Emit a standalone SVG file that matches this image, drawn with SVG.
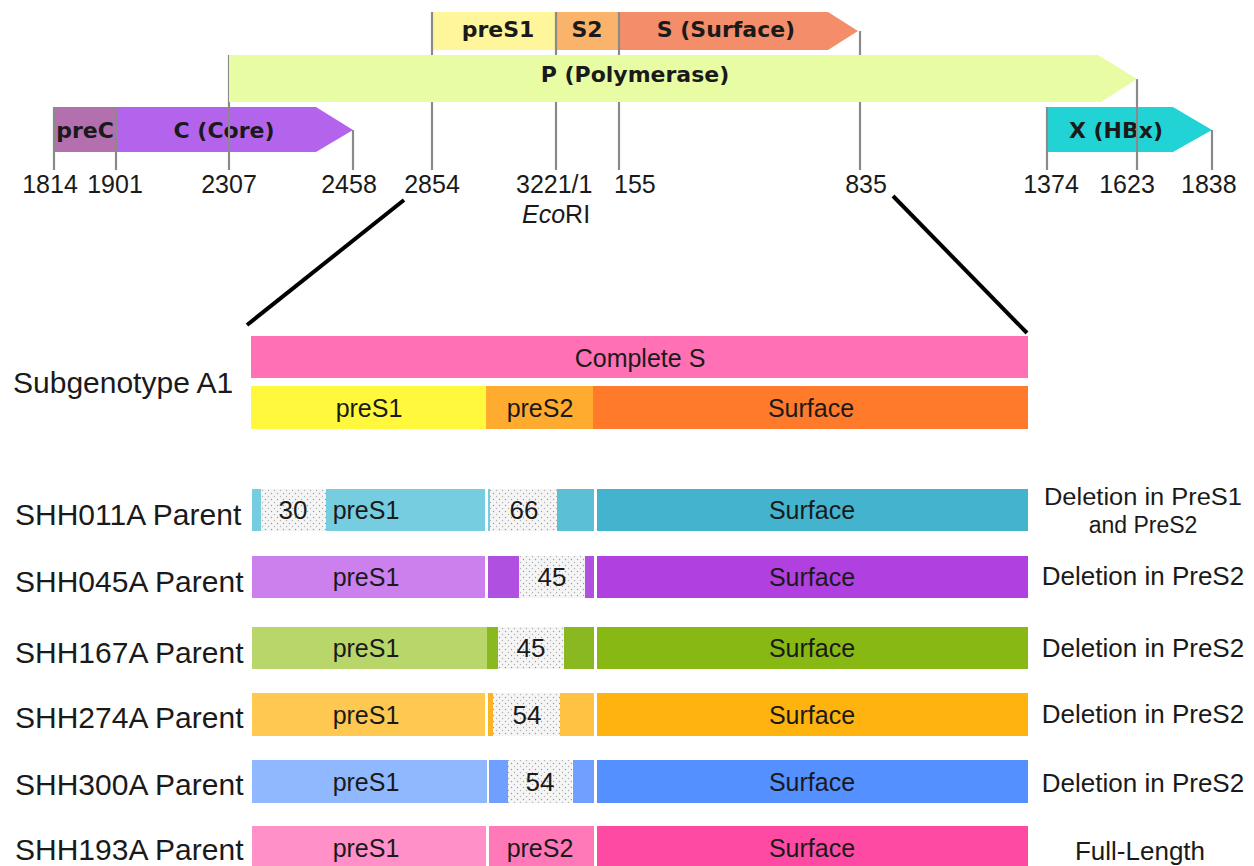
<svg xmlns="http://www.w3.org/2000/svg" width="1254" height="866" viewBox="0 0 1254 866">
<defs>
<pattern id="dots" width="6" height="6" patternUnits="userSpaceOnUse">
<rect width="6" height="6" fill="#f5f5f5"/>
<circle cx="1.5" cy="1.5" r="0.7" fill="#9a9a9a"/>
<circle cx="4.5" cy="4.5" r="0.7" fill="#b0b0b0"/>
</pattern>
<style>
.gl{font-family:"DejaVu Sans",sans-serif;font-weight:bold;font-size:22px;fill:#1a1a1a;text-anchor:middle}
.num{font-family:"Liberation Sans",Arial,sans-serif;font-size:25px;fill:#1a1a1a}
.tick{stroke:#8a8a8a;stroke-width:2.2;fill:none}
.lbl{font-family:"Liberation Sans",Arial,sans-serif;font-size:30px;fill:#1a1a1a}
.in{font-family:"Liberation Sans",Arial,sans-serif;font-size:25px;fill:#1a1a1a;text-anchor:middle}
.dn{font-family:"Liberation Sans",Arial,sans-serif;font-size:26px;fill:#1a1a1a;text-anchor:middle}
.rl{font-family:"Liberation Sans",Arial,sans-serif;font-size:26px;fill:#1a1a1a;text-anchor:middle}
.rs{font-family:"Liberation Sans",Arial,sans-serif;font-size:23px;fill:#1a1a1a;text-anchor:middle}
.del{fill:url(#dots)}
</style>
</defs>
<rect width="1254" height="866" fill="#ffffff"/>

<!-- genome map -->
<g id="gene-preS1"><rect x="432" y="12" width="124" height="38" fill="#fff59a"/><text class="gl" x="498" y="37">preS1</text></g>
<g id="gene-S2"><rect x="556" y="12" width="63" height="38" fill="#f9b36b"/><text class="gl" x="587" y="37">S2</text></g>
<g id="gene-S"><polygon points="619,12 828,12 858,31 828,50 619,50" fill="#f48e6a"/><text class="gl" x="726" y="37">S (Surface)</text></g>
<g id="gene-preC"><rect x="54" y="107" width="62" height="45" fill="#b46fae"/><text class="gl" x="85" y="138">preC</text></g>
<g id="gene-C"><polygon points="116,107 316,107 353,130 316,152 116,152" fill="#b464ec"/><text class="gl" x="224" y="138">C (Core)</text></g>
<g id="gene-X"><polygon points="1047,107 1173,107 1212,130 1173,152 1047,152" fill="#22d3d6"/><text class="gl" x="1116" y="138">X (HBx)</text></g>

<g id="connectors">
<line class="tick" x1="54" y1="107" x2="54" y2="170"/>
<line class="tick" x1="116" y1="107" x2="116" y2="170"/>
<line class="tick" x1="229" y1="55" x2="229" y2="170"/>
<line class="tick" x1="353" y1="130" x2="353" y2="170"/>
<line class="tick" x1="432" y1="12" x2="432" y2="170"/>
<line class="tick" x1="556" y1="12" x2="556" y2="170"/>
<line class="tick" x1="619" y1="12" x2="619" y2="170"/>
<line class="tick" x1="860" y1="31" x2="860" y2="170"/>
<line class="tick" x1="1047" y1="107" x2="1047" y2="170"/>
<line class="tick" x1="1137" y1="79" x2="1137" y2="170"/>
<line class="tick" x1="1212" y1="130" x2="1212" y2="170"/>
<line x1="404" y1="200" x2="247" y2="325" stroke="#000" stroke-width="4"/>
<line x1="893" y1="196" x2="1027" y2="333" stroke="#000" stroke-width="4"/>
</g>

<g id="gene-P"><polygon points="229,55 1098,55 1137,79 1101,102 229,102" fill="#e8fda3"/><text class="gl" x="635" y="82">P (Polymerase)</text></g>

<g id="positions">
<text class="num" x="50" y="193" text-anchor="middle">1814</text>
<text class="num" x="115" y="193" text-anchor="middle">1901</text>
<text class="num" x="229" y="193" text-anchor="middle">2307</text>
<text class="num" x="349" y="193" text-anchor="middle">2458</text>
<text class="num" x="432" y="193" text-anchor="middle">2854</text>
<text class="num" x="516" y="193">3221/1</text>
<text class="num" x="614" y="193">155</text>
<text class="num" x="866" y="193" text-anchor="middle">835</text>
<text class="num" x="1051" y="193" text-anchor="middle">1374</text>
<text class="num" x="1127" y="193" text-anchor="middle">1623</text>
<text class="num" x="1181" y="193">1838</text>
<text class="num" x="522" y="223"><tspan font-style="italic">Eco</tspan>RI</text>
</g>

<!-- reference bars -->
<g id="complete-S"><rect x="251" y="336" width="777" height="42" fill="#ff70b4"/><text class="in" x="640" y="367" font-size="26">Complete S</text></g>
<g id="subgenotype-A1">
<text class="lbl" x="13" y="393">Subgenotype A1</text>
<rect x="251" y="386" width="235" height="43" fill="#fff83c"/>
<rect x="486" y="386" width="107" height="43" fill="#ffab30"/>
<rect x="593" y="386" width="435" height="43" fill="#ff7a2a"/>
<text class="in" x="369" y="417">preS1</text>
<text class="in" x="540" y="417">preS2</text>
<text class="in" x="811" y="417">Surface</text>
</g>

<!-- SHH011A -->
<g id="SHH011A">
<text class="lbl" x="15" y="525">SHH011A Parent</text>
<rect x="252" y="489" width="9" height="42" fill="#76cde0"/>
<rect x="261" y="489" width="65" height="42" class="del"/>
<rect x="326" y="489" width="159" height="42" fill="#76cde0"/>
<rect x="488" y="489" width="2" height="42" fill="#76cde0"/>
<rect x="490" y="489" width="67" height="42" class="del"/>
<rect x="557" y="489" width="37" height="42" fill="#5bbfd6"/>
<rect x="597" y="489" width="431" height="42" fill="#44b4ce"/>
<text class="dn" x="293" y="519">30</text>
<text class="in" x="366" y="519">preS1</text>
<text class="dn" x="524" y="519">66</text>
<text class="in" x="812" y="519">Surface</text>
<text class="rs" x="1143" y="505" textLength="198" lengthAdjust="spacingAndGlyphs">Deletion in PreS1</text>
<text class="rs" x="1143" y="533">and PreS2</text>
</g>

<!-- SHH045A -->
<g id="SHH045A">
<text class="lbl" x="15" y="592">SHH045A Parent</text>
<rect x="252" y="556" width="233" height="42" fill="#cc80ee"/>
<rect x="488" y="556" width="31" height="42" fill="#b050e0"/>
<rect x="519" y="556" width="66" height="42" class="del"/>
<rect x="585" y="556" width="9" height="42" fill="#b050e0"/>
<rect x="597" y="556" width="431" height="42" fill="#b040e0"/>
<text class="in" x="366" y="586">preS1</text>
<text class="dn" x="552" y="586">45</text>
<text class="in" x="812" y="586">Surface</text>
<text class="rl" x="1143" y="585">Deletion in PreS2</text>
</g>

<!-- SHH167A -->
<g id="SHH167A">
<text class="lbl" x="15" y="663">SHH167A Parent</text>
<rect x="252" y="627" width="235" height="42" fill="#b8d66a"/>
<rect x="487" y="627" width="11" height="42" fill="#8ab820"/>
<rect x="498" y="627" width="66" height="42" class="del"/>
<rect x="564" y="627" width="30" height="42" fill="#8ab820"/>
<rect x="597" y="627" width="431" height="42" fill="#88b814"/>
<text class="in" x="366" y="657">preS1</text>
<text class="dn" x="531" y="657">45</text>
<text class="in" x="812" y="657">Surface</text>
<text class="rl" x="1143" y="657">Deletion in PreS2</text>
</g>

<!-- SHH274A -->
<g id="SHH274A">
<text class="lbl" x="15" y="728">SHH274A Parent</text>
<rect x="252" y="693" width="233" height="43" fill="#ffc851"/>
<rect x="488" y="693" width="5" height="43" fill="#fbb424"/>
<rect x="493" y="693" width="67" height="43" class="del"/>
<rect x="560" y="693" width="34" height="43" fill="#ffc243"/>
<rect x="597" y="693" width="431" height="43" fill="#ffb30f"/>
<text class="in" x="366" y="724">preS1</text>
<text class="dn" x="527" y="724">54</text>
<text class="in" x="812" y="724">Surface</text>
<text class="rl" x="1143" y="723">Deletion in PreS2</text>
</g>

<!-- SHH300A -->
<g id="SHH300A">
<text class="lbl" x="15" y="795">SHH300A Parent</text>
<rect x="252" y="760" width="235" height="43" fill="#8fb8ff"/>
<rect x="489" y="760" width="19" height="43" fill="#6fa0ff"/>
<rect x="508" y="760" width="64" height="43" class="del"/>
<rect x="573" y="760" width="21" height="43" fill="#6fa0ff"/>
<rect x="597" y="760" width="431" height="43" fill="#5490ff"/>
<text class="in" x="366" y="791">preS1</text>
<text class="dn" x="540" y="791">54</text>
<text class="in" x="812" y="791">Surface</text>
<text class="rl" x="1143" y="792">Deletion in PreS2</text>
</g>

<!-- SHH193A -->
<g id="SHH193A">
<text class="lbl" x="15" y="860">SHH193A Parent</text>
<rect x="252" y="826" width="234" height="42" fill="#ff90c8"/>
<rect x="489" y="826" width="105" height="42" fill="#ff79b9"/>
<rect x="597" y="826" width="431" height="42" fill="#ff4aa4"/>
<text class="in" x="366" y="857">preS1</text>
<text class="in" x="540" y="857">preS2</text>
<text class="in" x="812" y="857">Surface</text>
<text class="rl" x="1140" y="860">Full-Length</text>
</g>
</svg>
